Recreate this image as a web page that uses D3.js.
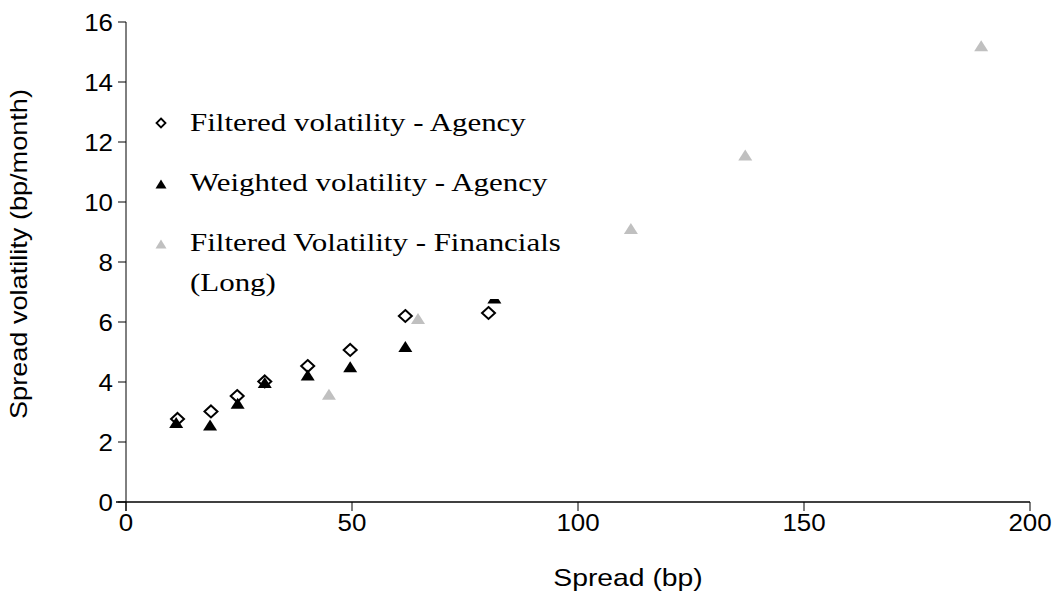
<!DOCTYPE html>
<html>
<head>
<meta charset="utf-8">
<script src="https://cdn.jsdelivr.net/npm/d3@7"></script>
<style>
  html, body { margin: 0; padding: 0; background: #fff; }
  svg { display: block; }
</style>
</head>
<body>
<svg id="chart" width="1057" height="592"></svg>
<script>
// ---- Data ----
const seriesNames = ["Filtered volatility - Agency", "Weighted volatility - Agency", "Filtered Volatility - Financials", "(Long)"];
const filteredAgencyX = [11.4, 18.8, 24.6, 30.7, 40.2, 49.6, 61.8, 80.2];
const filteredAgencyY = [2.77, 3.02, 3.53, 4.02, 4.53, 5.07, 6.2, 6.3];
const weightedAgencyX = [11.1, 18.6, 24.7, 30.7, 40.2, 49.6, 61.8, 81.5];
const weightedAgencyY = [2.65, 2.57, 3.29, 3.98, 4.23, 4.51, 5.18, 6.8];
const financialsX = [44.9, 64.6, 111.7, 137.0, 189.2];
const financialsY = [3.59, 6.12, 9.12, 11.57, 15.21];
const xTicks = [0, 50, 100, 150, 200];
const yTicks = [0, 2, 4, 6, 8, 10, 12, 14, 16];
const xTitle = "Spread (bp)";
const yTitle = "Spread volatility (bp/month)";

// ---- Layout ----
const svg = d3.select("#chart");
const x = d3.scaleLinear().domain([0, 200]).range([126, 1030]);
const y = d3.scaleLinear().domain([0, 16]).range([502, 22]);
const sansFont = "'Liberation Sans', Arial, sans-serif";
const serifFont = "'Liberation Serif', 'Times New Roman', serif";
const tickSize = 24, tickStretch = 1.08;
const titleSize = 24, titleStretch = 1.18;

// Axes lines
const axisG = svg.append("g");
axisG.append("line").attr("x1", x(0)).attr("x2", x(0)).attr("y1", y(16)).attr("y2", y(0) + 9)
  .attr("stroke", "#000").attr("stroke-width", 1);
axisG.append("line").attr("x1", x(0) - 10).attr("x2", x(200)).attr("y1", y(0)).attr("y2", y(0))
  .attr("stroke", "#000").attr("stroke-width", 1.3);

// y ticks
yTicks.forEach(t => {
  axisG.append("line").attr("x1", x(0) - 8).attr("x2", x(0)).attr("y1", y(t)).attr("y2", y(t))
    .attr("stroke", "#000").attr("stroke-width", 1);
  axisG.append("g").attr("transform", `translate(${x(0) - 13},${y(t)})`)
    .append("text").attr("transform", `scale(${tickStretch},1)`)
    .attr("text-anchor", "end").attr("dominant-baseline", "central")
    .attr("font-family", sansFont).attr("font-size", tickSize).attr("fill", "#000").text(t);
});
// x ticks
xTicks.forEach(t => {
  axisG.append("line").attr("x1", x(t)).attr("x2", x(t)).attr("y1", y(0)).attr("y2", y(0) + 9)
    .attr("stroke", "#000").attr("stroke-width", 1);
  axisG.append("g").attr("transform", `translate(${x(t)},${y(0) + 20})`)
    .append("text").attr("transform", `scale(${tickStretch},1)`)
    .attr("text-anchor", "middle").attr("dominant-baseline", "central")
    .attr("font-family", sansFont).attr("font-size", tickSize).attr("fill", "#000").text(t);
});

// Titles
svg.append("g").attr("transform", `translate(628,578)`)
  .append("text").attr("transform", `scale(${titleStretch},1)`)
  .attr("text-anchor", "middle").attr("dominant-baseline", "central")
  .attr("font-family", sansFont).attr("font-size", titleSize).attr("fill", "#000").text(xTitle);
svg.append("g").attr("transform", `translate(19,254) rotate(-90)`)
  .append("text").attr("transform", `scale(${titleStretch - 0.05},1)`)
  .attr("text-anchor", "middle").attr("dominant-baseline", "central")
  .attr("font-family", sansFont).attr("font-size", titleSize).attr("fill", "#000").text(yTitle);

// ---- Markers ----
function diamondPath(w, h) {
  return `M0,${-h} L${w},0 L0,${h} L${-w},0 Z`;
}
function trianglePath(w, h) {
  return `M0,${-h / 2} L${w / 2},${h / 2} L${-w / 2},${h / 2} Z`;
}

const filteredAgency = filteredAgencyX.map((v, i) => ({ x: v, y: filteredAgencyY[i] }));
const weightedAgency = weightedAgencyX.map((v, i) => ({ x: v, y: weightedAgencyY[i] }));
const financials = financialsX.map((v, i) => ({ x: v, y: financialsY[i] }));

svg.append("g").selectAll("path").data(filteredAgency).join("path")
  .attr("transform", d => `translate(${x(d.x)},${y(d.y)})`)
  .attr("d", diamondPath(6.5, 6))
  .attr("fill", "#fff").attr("stroke", "#000").attr("stroke-width", 2);

svg.append("g").selectAll("path").data(weightedAgency).join("path")
  .attr("transform", d => `translate(${x(d.x)},${y(d.y)})`)
  .attr("d", trianglePath(14, 11))
  .attr("fill", "#000");

svg.append("g").selectAll("path").data(financials).join("path")
  .attr("transform", d => `translate(${x(d.x)},${y(d.y)})`)
  .attr("d", trianglePath(14, 11))
  .attr("fill", "#c0c0c0");

// ---- Legend ----
const legend = svg.append("g");
legend.append("rect").attr("x", 148).attr("y", 96).attr("width", 450).attr("height", 203).attr("fill", "#fff");
const legendFontSize = 26;
const legendStretch = 1.19;
legend.append("path").attr("transform", "translate(161,123)").attr("d", diamondPath(4.5, 4.5))
  .attr("fill", "#fff").attr("stroke", "#000").attr("stroke-width", 1.8);
legend.append("path").attr("transform", "translate(161,184)").attr("d", trianglePath(11, 9)).attr("fill", "#000");
legend.append("path").attr("transform", "translate(161,244)").attr("d", trianglePath(11, 9)).attr("fill", "#c0c0c0");
const legendRows = [
  { t: seriesNames[0], yb: 131 },
  { t: seriesNames[1], yb: 191 },
  { t: seriesNames[2], yb: 251 },
  { t: seriesNames[3], yb: 291 }
];
legendRows.forEach(r => {
  legend.append("g").attr("transform", `translate(190,${r.yb})`)
    .append("text").attr("transform", `scale(${legendStretch},1)`)
    .attr("font-family", serifFont).attr("font-size", legendFontSize).attr("fill", "#000").text(r.t);
});
</script>
</body>
</html>
